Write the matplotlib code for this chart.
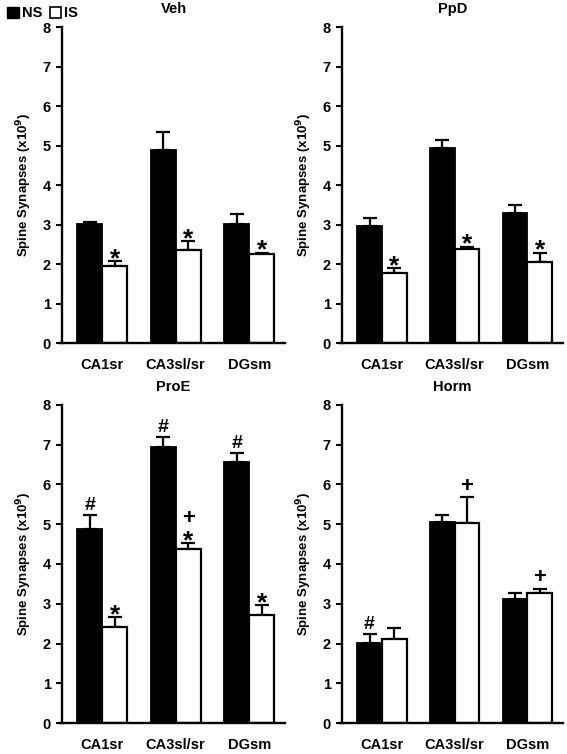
import numpy as np
import matplotlib
matplotlib.use("Agg")
import matplotlib.pyplot as plt
from matplotlib.patches import Patch

plt.rcParams['font.family'] = ['Liberation Sans', 'DejaVu Sans']
plt.rcParams['font.weight'] = 'bold'

regions = ["CA1sr", "CA3sl/sr", "DGsm"]
panels = ["Veh", "PpD", "ProE", "Horm"]

# mean values (x10^9)
ns_mean = {
    "Veh":  [3.01, 4.88, 3.01],
    "PpD":  [2.96, 4.94, 3.30],
    "ProE": [4.87, 6.94, 6.57],
    "Horm": [2.02, 5.05, 3.12],
}
ns_err = {
    "Veh":  [0.06, 0.47, 0.25],
    "PpD":  [0.21, 0.21, 0.20],
    "ProE": [0.36, 0.26, 0.23],
    "Horm": [0.22, 0.17, 0.15],
}
is_mean = {
    "Veh":  [1.94, 2.36, 2.26],
    "PpD":  [1.77, 2.38, 2.05],
    "ProE": [2.42, 4.37, 2.73],
    "Horm": [2.11, 5.02, 3.28],
}
is_err = {
    "Veh":  [0.13, 0.23, 0.03],
    "PpD":  [0.12, 0.06, 0.24],
    "ProE": [0.25, 0.15, 0.23],
    "Horm": [0.29, 0.66, 0.09],
}

# significance marks: (panel, region index, series, symbol)
marks = [
    ("Veh", 0, "IS", "*"), ("Veh", 1, "IS", "*"), ("Veh", 2, "IS", "*"),
    ("PpD", 0, "IS", "*"), ("PpD", 1, "IS", "*"), ("PpD", 2, "IS", "*"),
    ("ProE", 0, "NS", "#"), ("ProE", 1, "NS", "#"), ("ProE", 2, "NS", "#"),
    ("ProE", 0, "IS", "*"), ("ProE", 1, "IS", "*"), ("ProE", 2, "IS", "*"),
    ("ProE", 1, "IS", "*+"),
    ("Horm", 0, "NS", "#"), ("Horm", 1, "IS", "+"), ("Horm", 2, "IS", "+"),
]

fig = plt.figure(figsize=(5.67, 7.54), dpi=100)

# axes positions in figure fractions
boxes = {
    "Veh":  [0.109, 0.545, 0.394, 0.419],
    "PpD":  [0.603, 0.545, 0.390, 0.419],
    "ProE": [0.109, 0.041, 0.394, 0.422],
    "Horm": [0.603, 0.041, 0.390, 0.422],
}

w = 0.34
x = np.arange(len(regions))
axes = {}
for name in panels:
    ax = fig.add_axes(boxes[name])
    axes[name] = ax
    ax.bar(x - w / 2, ns_mean[name], w, color="black", edgecolor="black", lw=1.3, zorder=2)
    ax.bar(x + w / 2, is_mean[name], w, color="white", edgecolor="black", lw=1.6, zorder=2)
    ax.errorbar(x - w / 2, ns_mean[name], yerr=[np.zeros(3), ns_err[name]],
                fmt="none", ecolor="black", elinewidth=1.6, capsize=5, capthick=1.6, zorder=1)
    ax.errorbar(x + w / 2, is_mean[name], yerr=[np.zeros(3), is_err[name]],
                fmt="none", ecolor="black", elinewidth=1.6, capsize=5, capthick=1.6, zorder=1)

    ax.set_xlim(-0.55, 2.49)
    ax.set_ylim(0, 8)
    ax.set_yticks(range(0, 9))
    ax.set_xticks(x)
    ax.set_xticklabels(regions, fontsize=10.5, fontweight="bold")
    ax.tick_params(axis="x", length=0, pad=11)
    ax.tick_params(axis="y", length=4, width=1.5, direction="out", labelsize=10.5, pad=4)
    for lab in ax.get_yticklabels():
        lab.set_fontweight("bold")
    for s in ["top", "right"]:
        ax.spines[s].set_visible(False)
    ax.spines["left"].set_linewidth(1.7)
    ax.spines["bottom"].set_linewidth(1.7)
    ax.spines["bottom"].set_bounds(-0.58, 2.49)
    ax.set_ylabel("Spine Synapses (x10$^\\mathbf{9}$)", fontsize=9.5, fontweight="bold", labelpad=6)
    ax.set_title(name, fontsize=10.5, fontweight="bold", pad=10)

# annotation symbols above error bars
for name, i, series, sym in marks:
    ax = axes[name]
    if series == "NS":
        xx = x[i] - w / 2
        top = ns_mean[name][i] + ns_err[name][i]
    else:
        xx = x[i] + w / 2
        top = is_mean[name][i] + is_err[name][i]
    if sym == "*":
        ax.text(xx, top + 0.05, "*", ha="center", va="center", fontsize=19,
                fontweight="bold")
    elif sym == "#":
        ax.text(xx, top + 0.24, "#", ha="center", va="center", fontsize=14,
                fontweight="bold")
    elif sym == "*+":
        ax.text(xx, top + 0.62, "+", ha="center", va="center", fontsize=16,
                fontweight="bold")
    elif sym == "+":
        ax.text(xx, top + 0.28, "+", ha="center", va="center", fontsize=16,
                fontweight="bold")

handles = [Patch(facecolor="black", edgecolor="black", label="NS"),
           Patch(facecolor="white", edgecolor="black", lw=1.2, label="IS")]
fig.legend(handles=handles, loc="upper left", bbox_to_anchor=(-0.005, 1.005), ncol=2,
           frameon=False, handlelength=0.8, handleheight=0.8, handletextpad=0.2,
           columnspacing=0.5, borderpad=0.2, prop={"weight": "bold", "size": 10.5})

fig.savefig("out.png", dpi=100)
